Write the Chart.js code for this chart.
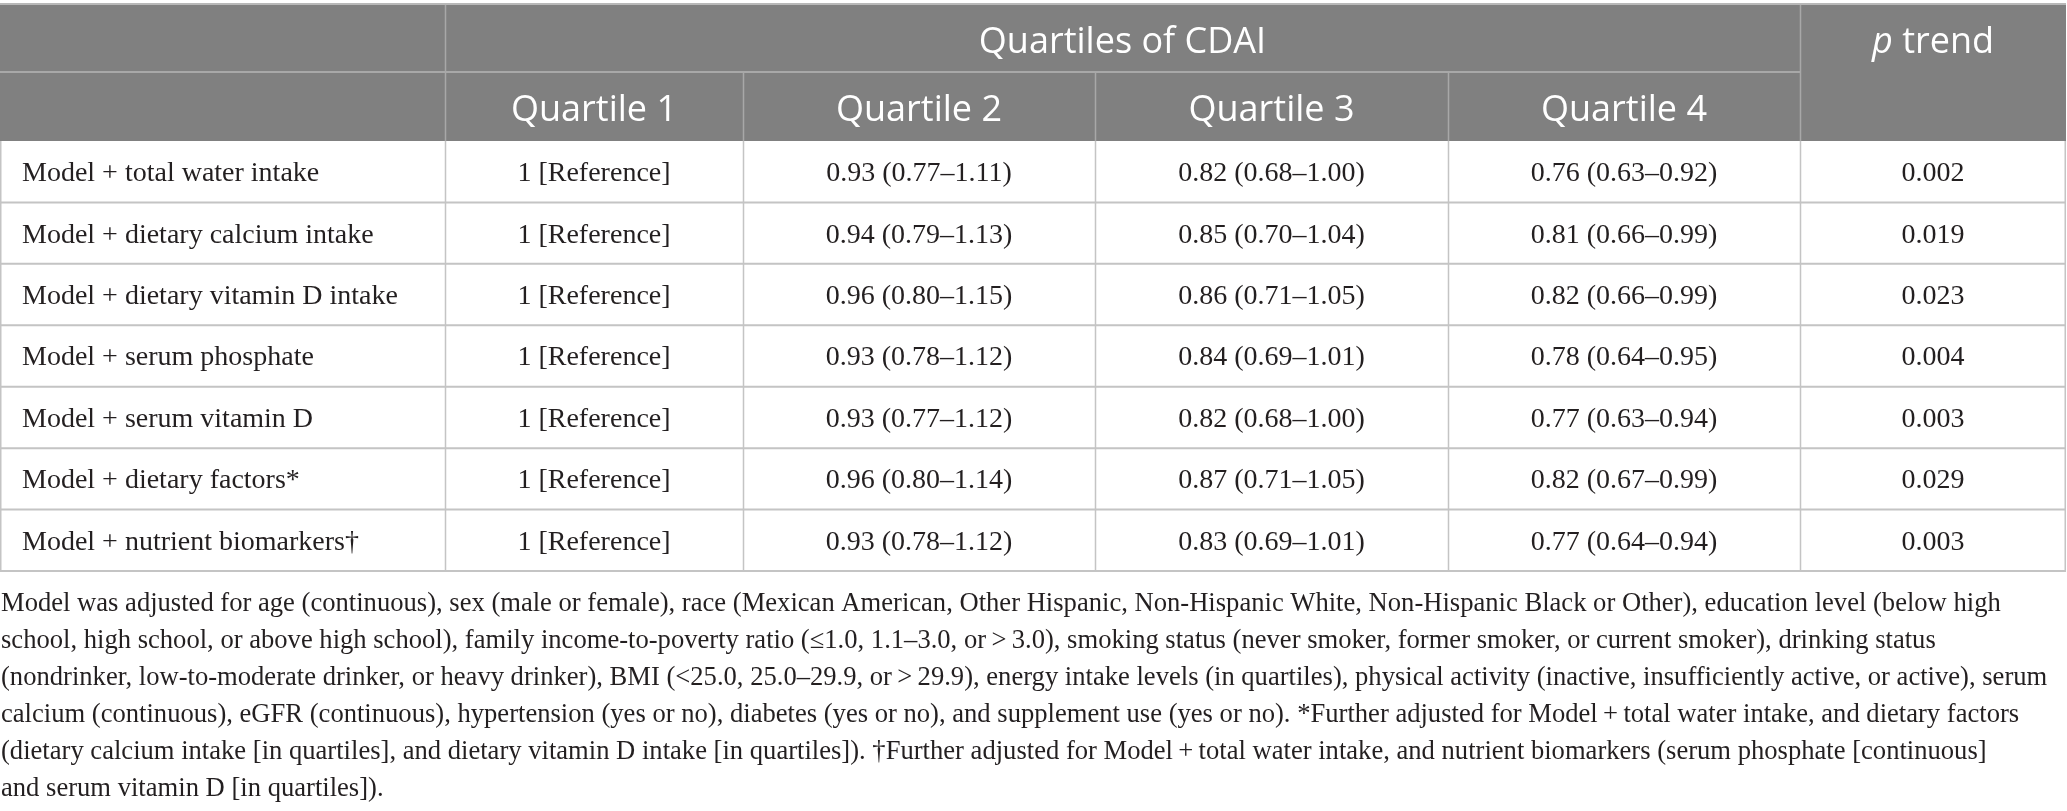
<!DOCTYPE html>
<html>
<head>
<meta charset="utf-8">
<script src="https://cdn.jsdelivr.net/npm/chart.js@4.4.1/dist/chart.umd.min.js"></script>
<style>
  html, body { margin: 0; padding: 0; background: #ffffff; }
  canvas { display: block; }
</style>
</head>
<body>
<canvas id="cdaiTable" width="2067" height="811"></canvas>
<script>
// Table data
const rowLabels = [
    'Model + total water intake',
    'Model + dietary calcium intake',
    'Model + dietary vitamin D intake',
    'Model + serum phosphate',
    'Model + serum vitamin D',
    'Model + dietary factors*',
    'Model + nutrient biomarkers\u2020',
];
const groupHeader = 'Quartiles of CDAI';
const columnHeaders = ['Quartile 1', 'Quartile 2', 'Quartile 3', 'Quartile 4'];
const quartile1 = ['1 [Reference]', '1 [Reference]', '1 [Reference]', '1 [Reference]', '1 [Reference]', '1 [Reference]', '1 [Reference]'];
const quartile2 = ['0.93 (0.77\u20131.11)', '0.94 (0.79\u20131.13)', '0.96 (0.80\u20131.15)', '0.93 (0.78\u20131.12)', '0.93 (0.77\u20131.12)', '0.96 (0.80\u20131.14)', '0.93 (0.78\u20131.12)'];
const quartile3 = ['0.82 (0.68\u20131.00)', '0.85 (0.70\u20131.04)', '0.86 (0.71\u20131.05)', '0.84 (0.69\u20131.01)', '0.82 (0.68\u20131.00)', '0.87 (0.71\u20131.05)', '0.83 (0.69\u20131.01)'];
const quartile4 = ['0.76 (0.63\u20130.92)', '0.81 (0.66\u20130.99)', '0.82 (0.66\u20130.99)', '0.78 (0.64\u20130.95)', '0.77 (0.63\u20130.94)', '0.82 (0.67\u20130.99)', '0.77 (0.64\u20130.94)'];
const pTrend = ['0.002', '0.019', '0.023', '0.004', '0.003', '0.029', '0.003'];
const footnoteLines = [
    'Model was adjusted for age (continuous), sex (male or female), race (Mexican American, Other Hispanic, Non-Hispanic White, Non-Hispanic Black or Other), education level (below high',
    'school, high school, or above high school), family income-to-poverty ratio (\u22641.0, 1.1\u20133.0, or\u2009>\u20093.0), smoking status (never smoker, former smoker, or current smoker), drinking status',
    '(nondrinker, low-to-moderate drinker, or heavy drinker), BMI (<25.0, 25.0\u201329.9, or\u2009>\u200929.9), energy intake levels (in quartiles), physical activity (inactive, insufficiently active, or active), serum',
    'calcium (continuous), eGFR (continuous), hypertension (yes or no), diabetes (yes or no), and supplement use (yes or no). *Further adjusted for Model\u2009+\u2009total water intake, and dietary factors',
    '(dietary calcium intake [in quartiles], and dietary vitamin D intake [in quartiles]). \u2020Further adjusted for Model\u2009+\u2009total water intake, and nutrient biomarkers (serum phosphate [continuous]',
    'and serum vitamin D [in quartiles]).',
];

// Layout (x units = pixels right of the label column)
const colEdges = [0, 298, 650, 1003, 1355, 1621];
const colCenters = colEdges.slice(0, -1).map((e, i) => (e + colEdges[i + 1]) / 2);
const headerTop = 5;
const headerMid = 72;
const serif = '"Liberation Serif", "Times New Roman", serif';
const sans = '"Open Sans", "Noto Sans", sans-serif';
const textColor = '#231f20';
const headerBg = '#808080';
const headerLine = '#a8a8a8';
const bodyLine = '#c4c4c4';

const cellColumns = [quartile1, quartile2, quartile3, quartile4, pTrend];

function makeDataset(texts, colIndex) {
    return {
        label: colIndex < 4 ? columnHeaders[colIndex] : 'p trend',
        data: rowLabels.map(r => ({ x: colCenters[colIndex], y: r })),
        cellText: texts,
        pointRadius: 0,
        pointHoverRadius: 0,
    };
}

const tablePlugin = {
    id: 'tablePlugin',
    beforeDraw(chart) {
        const ctx = chart.ctx;
        const x = chart.scales.x;
        const area = chart.chartArea;
        const right = area.right;
        ctx.save();
        ctx.fillStyle = '#ffffff';
        ctx.fillRect(0, 0, chart.width, chart.height);

        // header block
        ctx.fillStyle = headerBg;
        ctx.fillRect(0, headerTop, right, area.top - headerTop);
        ctx.strokeStyle = '#b8b8b8';
        ctx.lineWidth = 2;
        ctx.beginPath();
        ctx.moveTo(0, headerTop - 1);
        ctx.lineTo(right, headerTop - 1);
        ctx.stroke();

        ctx.strokeStyle = headerLine;
        ctx.beginPath();
        ctx.moveTo(0, headerMid);
        ctx.lineTo(x.getPixelForValue(colEdges[4]), headerMid);
        ctx.stroke();
        ctx.lineWidth = 1.5;
        ctx.beginPath();
        [0, 4].forEach(i => {
            const px = Math.round(x.getPixelForValue(colEdges[i])) + 0.5;
            ctx.moveTo(px, headerTop);
            ctx.lineTo(px, area.top);
        });
        [1, 2, 3].forEach(i => {
            const px = Math.round(x.getPixelForValue(colEdges[i])) + 0.5;
            ctx.moveTo(px, headerMid);
            ctx.lineTo(px, area.top);
        });
        ctx.stroke();

        // header text
        ctx.fillStyle = '#ffffff';
        ctx.textBaseline = 'alphabetic';
        ctx.textAlign = 'center';
        ctx.font = '36px ' + sans;
        ctx.fillText(groupHeader, (x.getPixelForValue(colEdges[0]) + x.getPixelForValue(colEdges[4])) / 2, 53);
        columnHeaders.forEach((h, i) => {
            ctx.fillText(h, x.getPixelForValue(colCenters[i]), 121);
        });
        const pCx = x.getPixelForValue(colCenters[4]);
        ctx.font = 'italic 36px ' + sans;
        const wP = ctx.measureText('p').width;
        ctx.font = '36px ' + sans;
        const wT = ctx.measureText(' trend').width;
        ctx.textAlign = 'left';
        ctx.font = 'italic 36px ' + sans;
        ctx.fillText('p', pCx - (wP + wT) / 2, 53);
        ctx.font = '36px ' + sans;
        ctx.fillText(' trend', pCx - (wP + wT) / 2 + wP, 53);

        // body grid
        const y = chart.scales.y;
        const half = (area.bottom - area.top) / rowLabels.length / 2;
        ctx.strokeStyle = bodyLine;
        ctx.lineWidth = 2;
        ctx.beginPath();
        rowLabels.forEach((r, i) => {
            const py = y.getPixelForValue(i) + half;
            ctx.moveTo(0, py);
            ctx.lineTo(right, py);
        });
        ctx.stroke();
        ctx.lineWidth = 1.5;
        ctx.beginPath();
        ctx.moveTo(0.75, area.top);
        ctx.lineTo(0.75, area.bottom);
        colEdges.forEach(e => {
            const px = Math.min(Math.round(x.getPixelForValue(e)) + 0.5, right - 0.75);
            ctx.moveTo(px, area.top);
            ctx.lineTo(px, area.bottom);
        });
        ctx.stroke();

        // footnote
        ctx.fillStyle = textColor;
        ctx.textAlign = 'left';
        ctx.font = '26.6px ' + serif;
        footnoteLines.forEach((line, i) => {
            ctx.fillText(line, 1, 611 + i * 37, 2058);
        });
        ctx.restore();
    },
    afterDatasetsDraw(chart) {
        const ctx = chart.ctx;
        ctx.save();
        ctx.fillStyle = textColor;
        ctx.font = '28px ' + serif;
        ctx.textAlign = 'center';
        ctx.textBaseline = 'middle';
        chart.data.datasets.forEach((ds, di) => {
            const meta = chart.getDatasetMeta(di);
            meta.data.forEach((pt, i) => {
                ctx.fillText(ds.cellText[i], pt.x, pt.y + 2);
            });
        });
        ctx.restore();
    },
};

window.addEventListener('DOMContentLoaded', () => {
    const ctx = document.getElementById('cdaiTable').getContext('2d');
    new Chart(ctx, {
        type: 'scatter',
        data: {
            datasets: cellColumns.map((col, i) => makeDataset(col, i)),
        },
        options: {
            responsive: false,
            animation: false,
            devicePixelRatio: 1,
            layout: { padding: { left: 22, top: 141, right: 1, bottom: 240 } },
            plugins: { legend: { display: false }, tooltip: { enabled: false } },
            events: [],
            scales: {
                x: {
                    type: 'linear',
                    min: colEdges[0],
                    max: colEdges[colEdges.length - 1],
                    display: false,
                },
                y: {
                    type: 'category',
                    labels: rowLabels,
                    offset: true,
                    position: 'left',
                    grid: { display: false },
                    border: { display: false },
                    afterFit(scale) { scale.width = 423; },
                    ticks: {
                        crossAlign: 'far',
                        padding: 0,
                        labelOffset: 2,
                        color: textColor,
                        font: { family: serif, size: 28 },
                    },
                },
            },
        },
        plugins: [tablePlugin],
    });
});
</script>
</body>
</html>
